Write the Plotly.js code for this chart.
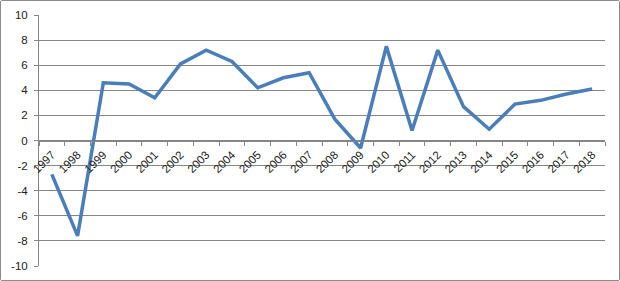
<!DOCTYPE html>
<html><head><meta charset="utf-8">
<script src="https://cdn.plot.ly/plotly-3.0.1.min.js"></script>
<style>
html,body{margin:0;padding:0;background:#fff;}
#wrap{width:618px;height:279px;border:1px solid #8c8c8c;border-radius:2px;}
#chart{width:618px;height:279px;}
</style></head>
<body><div id="wrap"><div id="chart"></div></div>
<script>
const years = ["1997","1998","1999","2000","2001","2002","2003","2004","2005","2006","2007","2008","2009","2010","2011","2012","2013","2014","2015","2016","2017","2018"];
const values = [-2.7,-7.6,4.6,4.5,3.4,6.1,7.2,6.3,4.2,5.0,5.4,1.7,-0.6,7.5,0.8,7.2,2.7,0.9,2.9,3.2,3.7,4.1];
const yTicks = [-10,-8,-6,-4,-2,0,2,4,6,8,10];

Plotly.newPlot('chart', [{
  x: years, y: values, type: 'scatter', mode: 'lines',
  line: {color: '#4a7ebb', width: 3.5},
  hoverinfo: 'none'
}], {
  width: 618, height: 279,
  margin: {l: 38, r: 14, t: 14, b: 14, pad: 0},
  paper_bgcolor: '#fff', plot_bgcolor: '#fff',
  showlegend: false,
  font: {family: 'Liberation Sans, Arial, sans-serif', size: 11, color: '#222'},
  xaxis: {
    type: 'category', anchor: 'free', position: 0.5,
    showgrid: false, zeroline: false,
    showline: true, linecolor: '#868686', linewidth: 1,
    ticks: 'outside', ticklen: 4, tickcolor: '#868686', tickson: 'boundaries',
    tickangle: -45, tickfont: {size: 11.5, color: '#222'}, ticklabelstandoff: 2,
    range: [-0.5, 21.5]
  },
  yaxis: {
    range: [-10, 10], tickvals: yTicks, ticktext: yTicks.map(String),
    showgrid: true, gridcolor: '#868686', gridwidth: 1,
    zeroline: false, showline: true, linecolor: '#868686', linewidth: 1,
    ticks: 'outside', ticklen: 4, tickcolor: '#868686',
    tickfont: {size: 11.5, color: '#222'}, ticklabelstandoff: 4
  }
}, {displayModeBar: false, staticPlot: true});
</script></body></html>
